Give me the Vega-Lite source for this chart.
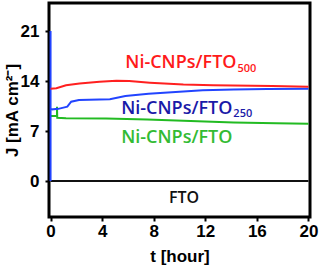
{
  "$schema": "https://vega.github.io/schema/vega-lite/v6.json",
  "width": 261,
  "height": 214,
  "autosize": {"type": "none"},
  "padding": {"left": 49, "top": 3, "right": 13, "bottom": 53},
  "background": "white",
  "config": {
    "view": {"stroke": "black", "strokeWidth": 3},
    "axis": {
      "domain": false,
      "grid": false,
      "labelOverlap": false,
      "tickColor": "black",
      "tickWidth": 2,
      "tickSize": 4,
      "labelFont": "Liberation Sans",
      "labelFontWeight": "bold",
      "labelFontSize": 17,
      "labelColor": "black",
      "titleFont": "Liberation Sans",
      "titleFontWeight": "bold",
      "titleFontSize": 17,
      "titleColor": "black"
    }
  },
  "datasets": {
    "lines": [
      {"s": "FTO", "i": 0, "t": 0, "J": 0},
      {"s": "FTO", "i": 1, "t": 20, "J": 0},
      {"s": "green", "i": 0, "t": 0, "J": 9.1},
      {"s": "green", "i": 1, "t": 0.5, "J": 9.1},
      {"s": "green", "i": 2, "t": 0.5, "J": 10.4},
      {"s": "green", "i": 3, "t": 0.52, "J": 8.85},
      {"s": "green", "i": 4, "t": 1.2, "J": 8.8},
      {"s": "green", "i": 5, "t": 4.3, "J": 8.75},
      {"s": "green", "i": 6, "t": 7.5, "J": 8.6},
      {"s": "green", "i": 7, "t": 10.3, "J": 8.45},
      {"s": "green", "i": 8, "t": 14.2, "J": 8.2},
      {"s": "green", "i": 9, "t": 17.5, "J": 8.1},
      {"s": "green", "i": 10, "t": 20, "J": 8.0},
      {"s": "blue", "i": 0, "t": 0, "J": 0},
      {"s": "blue", "i": 1, "t": 0, "J": 21},
      {"s": "blue", "i": 2, "t": 0, "J": 10.0},
      {"s": "blue", "i": 3, "t": 0.6, "J": 10.1},
      {"s": "blue", "i": 4, "t": 1.3, "J": 10.4},
      {"s": "blue", "i": 5, "t": 1.6, "J": 11.1},
      {"s": "blue", "i": 6, "t": 2.2, "J": 11.35},
      {"s": "blue", "i": 7, "t": 4.6, "J": 11.45},
      {"s": "blue", "i": 8, "t": 5.8, "J": 11.9},
      {"s": "blue", "i": 9, "t": 7.6, "J": 12.2},
      {"s": "blue", "i": 10, "t": 9.7, "J": 12.45},
      {"s": "blue", "i": 11, "t": 11.8, "J": 12.7},
      {"s": "blue", "i": 12, "t": 14.2, "J": 12.8},
      {"s": "blue", "i": 13, "t": 16.8, "J": 12.88},
      {"s": "blue", "i": 14, "t": 20, "J": 12.9},
      {"s": "red", "i": 0, "t": 0, "J": 12.9},
      {"s": "red", "i": 1, "t": 0.45, "J": 13.0},
      {"s": "red", "i": 2, "t": 1.2, "J": 13.4},
      {"s": "red", "i": 3, "t": 2.25, "J": 13.65},
      {"s": "red", "i": 4, "t": 3.8, "J": 13.9},
      {"s": "red", "i": 5, "t": 5.1, "J": 14.05},
      {"s": "red", "i": 6, "t": 6.1, "J": 14.0},
      {"s": "red", "i": 7, "t": 7.7, "J": 13.77},
      {"s": "red", "i": 8, "t": 10.3, "J": 13.5},
      {"s": "red", "i": 9, "t": 12.6, "J": 13.4},
      {"s": "red", "i": 10, "t": 17.2, "J": 13.3},
      {"s": "red", "i": 11, "t": 20, "J": 13.2}
    ],
    "labels": [
      {"s": "red", "name": "Ni-CNPs/FTO", "sub": "500", "t": 14.42, "J": 15.8, "Js": 15.3},
      {"s": "blue", "name": "Ni-CNPs/FTO", "sub": "250", "t": 14.1, "J": 9.38, "Js": 8.9},
      {"s": "green", "name": "Ni-CNPs/FTO", "sub": "", "t": 14.1, "J": 5.28, "Js": 5.28}
    ],
    "fto": [
      {"name": "FTO", "t": 10.35, "J": -3.12}
    ]
  },
  "layer": [
    {
      "data": {"name": "lines"},
      "mark": {"type": "line", "strokeWidth": 2},
      "encoding": {
        "x": {
          "field": "t", "type": "quantitative",
          "scale": {"domain": [-0.12, 20.12], "nice": false, "zero": false},
          "axis": {
            "title": "t [hour]",
            "values": [0, 2, 4, 6, 8, 10, 12, 14, 16, 18, 20],
            "labelExpr": "datum.value % 4 === 0 ? datum.label : ''",
            "labelPadding": 2,
            "titlePadding": 9
          }
        },
        "y": {
          "field": "J", "type": "quantitative",
          "scale": {"domain": [-5.04, 24.92], "nice": false, "zero": false},
          "axis": {
            "title": "J [mA cm²⁻]",
            "values": [0, 3.5, 7, 10.5, 14, 17.5, 21, 24.5],
            "labelExpr": "datum.value % 7 === 0 ? datum.label : ''",
            "labelPadding": 6,
            "titleX": -28,
            "titleY": 107,
            "titleAngle": 270,
            "titleAlign": "center",
            "titleBaseline": "bottom"
          }
        },
        "order": {"field": "i", "type": "quantitative"},
        "detail": {"field": "s"},
        "color": {
          "field": "s", "type": "nominal", "legend": null,
          "scale": {"domain": ["FTO", "green", "blue", "red"], "range": ["#111111", "#22bb22", "#2244ff", "#ff2020"]}
        },
        "strokeWidth": {
          "field": "s", "type": "nominal", "legend": null,
          "scale": {"domain": ["FTO", "green", "blue", "red"], "range": [1.5, 2, 2, 2]}
        }
      }
    },
    {
      "data": {"name": "labels"},
      "mark": {"type": "text", "align": "right", "baseline": "alphabetic", "font": "Open Sans", "fontWeight": 600, "fontSize": 18},
      "encoding": {
        "x": {"field": "t", "type": "quantitative"},
        "y": {"field": "J", "type": "quantitative"},
        "text": {"field": "name"},
        "color": {
          "field": "s", "type": "nominal", "legend": null,
          "scale": {"domain": ["FTO", "green", "blue", "red"], "range": ["#111111", "#33bb33", "#1a1aa8", "#ff1a1a"]}
        }
      }
    },
    {
      "data": {"name": "labels"},
      "mark": {"type": "text", "align": "left", "baseline": "alphabetic", "font": "Open Sans", "fontWeight": 600, "fontSize": 11, "dx": 1},
      "encoding": {
        "x": {"field": "t", "type": "quantitative"},
        "y": {"field": "Js", "type": "quantitative"},
        "text": {"field": "sub"},
        "color": {
          "field": "s", "type": "nominal", "legend": null,
          "scale": {"domain": ["FTO", "green", "blue", "red"], "range": ["#111111", "#33bb33", "#1a1aa8", "#ff1a1a"]}
        }
      }
    },
    {
      "data": {"name": "fto"},
      "mark": {"type": "text", "align": "center", "baseline": "alphabetic", "font": "Open Sans", "fontWeight": 600, "fontSize": 16, "color": "#111111"},
      "encoding": {
        "x": {"field": "t", "type": "quantitative"},
        "y": {"field": "J", "type": "quantitative"},
        "text": {"field": "name"}
      }
    }
  ],
  "resolve": {"scale": {"color": "independent"}}
}
